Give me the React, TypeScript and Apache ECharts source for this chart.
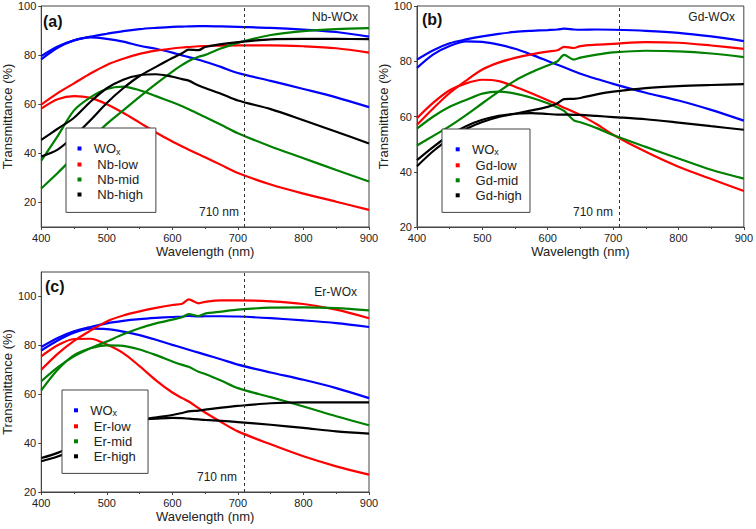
import React, { useEffect, useRef } from 'react';
import * as echarts from 'echarts';

// Wavelength grid (nm)
const wavelengths = [400, 425, 450, 475, 500, 525, 550, 575, 600, 615, 625, 640, 650, 675, 700, 750, 800, 850, 900];

// Panel (a) Nb-WOx
const aWOxUp = [79.6, 83.5, 86, 87.5, 88.7, 89.8, 90.6, 91.1, 91.5, 91.6, 91.7, 91.8, 91.8, 91.7, 91.5, 91.1, 90.4, 89.4, 87.5];
const aWOxDown = [78.3, 83, 86, 87.2, 86.6, 85.5, 83.8, 82.6, 81, 79.9, 79.2, 78.1, 77.3, 75.1, 72.7, 69.5, 66.2, 62.8, 58.8];
const aLowUp = [59.8, 64.5, 68.5, 72.5, 76, 78.5, 80.5, 81.8, 82.7, 83.1, 83.3, 83.6, 83.7, 83.9, 84, 84, 83.6, 82.8, 81];
const aLowDown = [58.2, 62, 63.3, 62.6, 60, 56.5, 52.5, 48.5, 44.8, 42.8, 41.5, 39.6, 38.4, 35.2, 32, 27.3, 23.6, 20.3, 17];
const aMidUp = [25.7, 32, 38.7, 45.5, 52, 57.5, 63, 68.3, 73.3, 76, 77.6, 79.3, 80.1, 82.8, 85, 88.2, 89.8, 90.6, 91];
const aMidDown = [37, 47, 57.5, 62.8, 66.2, 67.2, 65.7, 63.3, 60.8, 59.2, 58, 56, 54.8, 51.5, 48.2, 42.8, 38, 33.2, 28.5];
const aHighUp = [38.7, 41.5, 47, 53.5, 60.5, 66.5, 71.5, 75.2, 78.8, 80.8, 82.2, 82, 83.3, 84.5, 85.3, 86.4, 86.6, 86.6, 86.5];
const aHighDown = [45.5, 50, 54.5, 61, 66.5, 70, 71.8, 72.2, 71.2, 70.2, 69.6, 67.6, 66.6, 64.2, 61.5, 58, 53.5, 48.8, 44];

// Panel (b) Gd-WOx
const bWOxUp = [80.6, 84, 86.5, 87.9, 89, 89.9, 90.6, 91, 91.3, 91.5, 91.8, 91.5, 91.4, 91.5, 91.4, 91, 90.3, 89, 87.3];
const bWOxDown = [77.6, 82.5, 85.5, 87.2, 87, 86, 84.5, 82.4, 80.1, 78.7, 77.8, 76.4, 75.5, 73.6, 71.8, 68.6, 65.8, 62.4, 58.5];
const bLowUp = [57, 63, 68.5, 73, 77, 79.5, 81.2, 82.5, 83.5, 84, 85.2, 84.8, 85.5, 86, 86.3, 86.9, 86.7, 85.7, 84.5];
const bLowDown = [59.4, 65, 69.5, 72, 73.3, 72.8, 70.8, 68.4, 65.9, 64.3, 63.2, 61.6, 60.5, 57.2, 53.4, 47.2, 41.8, 37.4, 33];
const bMidUp = [49.5, 53, 56.5, 60.5, 64.8, 69, 73, 76, 78.5, 80, 82.3, 80.6, 81.3, 82.4, 83.2, 83.8, 83.6, 82.8, 81.5];
const bMidDown = [55.6, 60, 63.5, 66, 68.3, 69, 68.3, 66.8, 64.8, 63.3, 62, 58.6, 57.9, 55.8, 53.3, 49, 44.8, 40.7, 37.5];
const bHighUp = [42, 47.5, 52, 55.5, 58, 59.8, 61, 62.2, 63.5, 64.8, 66.3, 66.4, 66.7, 68, 69, 70.3, 71, 71.4, 71.7];
const bHighDown = [44.2, 49, 53.3, 56.5, 58.8, 60.2, 61, 61.2, 60.9, 60.7, 60.7, 60.6, 60.6, 60.2, 59.8, 59, 57.8, 56.5, 55.2];

// Panel (c) Er-WOx
const cWOxUp = [79.3, 83, 85.7, 87.5, 89, 90, 90.7, 91.2, 91.6, 91.8, 92, 91.8, 91.9, 91.9, 91.8, 91.1, 90.2, 89.1, 87.5];
const cWOxDown = [77.9, 82, 85.2, 86.8, 86.6, 85.6, 84.2, 82.3, 80.2, 79, 78.2, 77, 76.2, 74.2, 72.1, 68.9, 65.9, 62.5, 58.4];
const cLowUp = [70, 76.5, 81.8, 86, 89.8, 92.2, 93.9, 95.3, 96.5, 97, 98.8, 97.2, 97.8, 98.4, 98.4, 98, 96.9, 94.6, 91.1];
const cLowDown = [75.5, 80, 82.6, 82.7, 80.3, 76.8, 71.5, 65.7, 60.7, 58.4, 57, 54.3, 52.5, 48.5, 44.8, 39.5, 34.6, 30.5, 27.1];
const cMidUp = [65.3, 71, 75.5, 78.8, 81.6, 84.5, 87, 89, 90.5, 91.5, 92.8, 92, 93, 93.8, 94.6, 95.4, 95.5, 95.2, 94.3];
const cMidDown = [61.6, 70, 76, 78.8, 80, 79.8, 78.3, 76, 73.4, 72, 71.2, 69.2, 68.3, 65.5, 62.5, 58.8, 55, 51, 47.3];
const cHighUp = [33.9, 36, 39.5, 44, 47.5, 48.8, 49.6, 50.5, 51.5, 52.3, 53, 53.3, 53.7, 54.5, 55.2, 56.3, 56.7, 56.7, 56.7];
const cHighDown = [32.6, 34.5, 37.5, 43, 47.5, 49, 49.6, 50, 50.3, 50.2, 50, 49.7, 49.5, 49.1, 48.6, 47.5, 46.2, 44.8, 43.9];

const yTickValues = [20, 40, 60, 80, 100];
const markerLine = 710;

const panelNames = ['Nb-WOx', 'Gd-WOx', 'Er-WOx'];
const panelTags = ['(a)', '(b)', '(c)'];
const legendNames = [
  ['WOx', 'Nb-low', 'Nb-mid', 'Nb-high'],
  ['WOx', 'Gd-low', 'Gd-mid', 'Gd-high'],
  ['WOx', 'Er-low', 'Er-mid', 'Er-high'],
];
const panelSeries = [
  [aWOxUp, aWOxDown, aLowUp, aLowDown, aMidUp, aMidDown, aHighUp, aHighDown],
  [bWOxUp, bWOxDown, bLowUp, bLowDown, bMidUp, bMidDown, bHighUp, bHighDown],
  [cWOxUp, cWOxDown, cLowUp, cLowDown, cMidUp, cMidDown, cHighUp, cHighDown],
];
const colors = ['#0000ff', '#ff0000', '#008000', '#000000'];

const FONT = '"Liberation Sans", Arial, sans-serif';

export default function App() {
  const ref = useRef<HTMLDivElement>(null);
  useEffect(() => {
    if (!ref.current) return;
    const chart = echarts.init(ref.current, undefined, { renderer: 'svg' });

    const grids = [
      { left: 40, top: 6, width: 329, height: 221 },
      { left: 417, top: 6, width: 329, height: 221 },
      { left: 40, top: 272, width: 329, height: 220 },
    ];
    const yRanges = [
      [10, 100],
      [20, 100],
      [20, 110],
    ];

    const series: any[] = [];
    panelSeries.forEach((arrs, p) => {
      arrs.forEach((vals, k) => {
        const g = Math.floor(k / 2);
        const s: any = {
          type: 'line',
          name: legendNames[p][g],
          xAxisIndex: p,
          yAxisIndex: p,
          data: wavelengths.map((w, i) => [w, vals[i]]),
          showSymbol: false,
          smooth: 0.3,
          color: colors[g],
          lineStyle: { width: 2.2, color: colors[g] },
          z: 2,
        };
        if (k === 0) {
          s.markLine = {
            silent: true,
            symbol: 'none',
            label: { show: false },
            lineStyle: { type: [3, 3], color: '#333', width: 1 },
            data: [{ xAxis: markerLine }],
          };
        }
        series.push(s);
      });
    });

    const xAxis = grids.map((_, p) => ({
      type: 'value',
      gridIndex: p,
      min: 400,
      max: 900,
      interval: 100,
      name: 'Wavelength (nm)',
      nameLocation: 'middle',
      nameGap: 18,
      nameTextStyle: { fontFamily: FONT, fontSize: 13, color: '#222' },
      axisLine: { show: true, lineStyle: { color: '#444', width: 1 } },
      axisTick: { show: true, length: 3, lineStyle: { color: '#444' } },
      minorTick: { show: true, splitNumber: 2, length: 2, lineStyle: { color: '#444' } },
      axisLabel: { fontFamily: FONT, fontSize: 11, color: '#222', margin: 5 },
      splitLine: { show: false },
    }));

    const yAxis = grids.map((_, p) => ({
      type: 'value',
      gridIndex: p,
      min: yRanges[p][0],
      max: yRanges[p][1],
      interval: p === 1 ? 20 : 10,
      name: 'Transmittance (%)',
      nameLocation: 'middle',
      nameGap: 24,
      nameTextStyle: { fontFamily: FONT, fontSize: 13, color: '#222' },
      axisLine: { show: true, lineStyle: { color: '#444', width: 1 } },
      axisTick: { show: true, length: 3, lineStyle: { color: '#444' }, customValues: yTickValues },
      axisLabel: { fontFamily: FONT, fontSize: 11, color: '#222', margin: 5, customValues: yTickValues },
      splitLine: { show: false },
    }));

    // legend box: left, top, padding [t, r, b, l]
    const legendLeft = [66, 442, 62];
    const legendTop = [128, 129, 390];
    const legendPad = [
      [12, 13, 11.4, 11.5],
      [11.8, 8.2, 10.6, 13.7],
      [11.8, 12.3, 10.6, 12],
    ];
    const legend = legendNames.map((names, p) => ({
      data: names,
      orient: 'vertical',
      left: legendLeft[p],
      top: legendTop[p],
      icon: 'rect',
      itemWidth: 4,
      itemHeight: 4,
      itemGap: 2,
      padding: legendPad[p],
      backgroundColor: '#ffffff',
      borderColor: '#444',
      borderWidth: 1,
      selectedMode: false,
      z: 10,
      formatter: (name: string) => (name === 'WOx' ? '{t|  WO}{s|x}' : '{t|   ' + name + '}'),
      textStyle: {
        fontFamily: FONT,
        fontSize: 13,
        color: '#222',
        rich: {
          t: { fontFamily: FONT, fontSize: 13, color: '#222', lineHeight: 15 },
          s: { fontFamily: FONT, fontSize: 9, color: '#222', lineHeight: 15, verticalAlign: 'bottom', padding: [7, 0, 0, 0] },
        },
      },
    }));

    const tagPos = [
      [43, 21],
      [422, 19],
      [45, 286],
    ];
    const namePos = [
      [358, 17],
      [735, 17],
      [357, 292],
    ];
    const nmPos = [
      [199, 212],
      [573, 212],
      [197, 477],
    ];

    const elements: any[] = [];
    panelTags.forEach((t, p) => {
      elements.push({
        type: 'text',
        x: tagPos[p][0],
        y: tagPos[p][1],
        style: { text: t, fontFamily: FONT, fontSize: 16, fontWeight: 'bold', fill: '#111', verticalAlign: 'middle', align: 'left' },
      });
      elements.push({
        type: 'text',
        x: namePos[p][0],
        y: namePos[p][1],
        style: { text: panelNames[p], fontFamily: FONT, fontSize: 12, fill: '#222', verticalAlign: 'middle', align: 'right' },
      });
      elements.push({
        type: 'text',
        x: nmPos[p][0],
        y: nmPos[p][1],
        style: { text: markerLine + ' nm', fontFamily: FONT, fontSize: 12, fill: '#222', verticalAlign: 'middle', align: 'left' },
      });
    });

    chart.setOption({
      animation: false,
      backgroundColor: '#ffffff',
      grid: grids.map((g) => ({ ...g, show: true, borderColor: '#444', borderWidth: 1, backgroundColor: 'transparent' })),
      xAxis,
      yAxis,
      legend,
      graphic: { z: 5, elements },
      series,
    });
    return () => chart.dispose();
  }, []);
  return <div ref={ref} style={{ position: 'fixed', left: 0, top: 0, width: 756, height: 529 }} />;
}
